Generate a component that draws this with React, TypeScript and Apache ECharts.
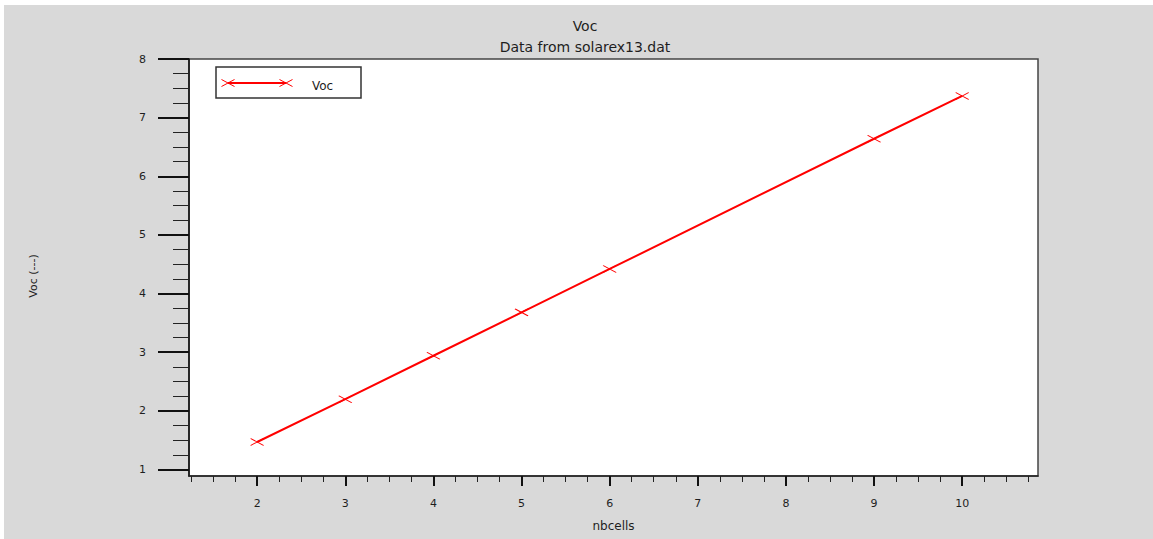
import React, { useEffect, useRef } from "react";
import * as echarts from "echarts";

const xValues = [2, 3, 4, 5, 6, 9, 10];
const vocValues = [1.47, 2.2, 2.94, 3.68, 4.42, 6.64, 7.37];
const xMajorTicks = [2, 3, 4, 5, 6, 7, 8, 9, 10];
const xMinorTicks = [
  1.25, 1.5, 1.75, 2.25, 2.5, 2.75, 3.25, 3.5, 3.75, 4.25, 4.5, 4.75, 5.25, 5.5, 5.75,
  6.25, 6.5, 6.75, 7.25, 7.5, 7.75, 8.25, 8.5, 8.75, 9.25, 9.5, 9.75, 10.25, 10.5, 10.75,
];
const yMajorTicks = [1, 2, 3, 4, 5, 6, 7, 8];
const yMinorTicks = [
  1.25, 1.5, 1.75, 2.25, 2.5, 2.75, 3.25, 3.5, 3.75, 4.25, 4.5, 4.75, 5.25, 5.5, 5.75,
  6.25, 6.5, 6.75, 7.25, 7.5, 7.75,
];
const titleText = "Voc";
const subTitleText = "Data from solarex13.dat";
const xName = "nbcells";
const yName = "Voc (---)";
const legendName = "Voc";

const FONT = "DejaVu Sans";
const RED = "#ff0000";
const TXT = "#1e1e1e";

export default function App() {
  const ref = useRef<HTMLDivElement>(null);
  useEffect(() => {
    if (!ref.current) return;
    const chart = echarts.init(ref.current, null, { renderer: "svg" });
    const xMin = 1.227;
    const xMax = 10.86;
    const yMin = 0.89;
    const yMax = 8;
    const lx1 = 224, lx2 = 282, ly = 78;
    const xMark = (cx: number, cy: number) => [
      { type: "line", shape: { x1: cx - 6.5, y1: cy - 3.5, x2: cx + 6.5, y2: cy + 3.5 }, style: { stroke: RED, lineWidth: 1 } },
      { type: "line", shape: { x1: cx - 6.5, y1: cy + 3.5, x2: cx + 6.5, y2: cy - 3.5 }, style: { stroke: RED, lineWidth: 1 } },
    ];
    chart.setOption({
      animation: false,
      backgroundColor: "#d9d9d9",
      textStyle: { fontFamily: FONT },
      title: [
        { text: titleText, left: 576, top: 9, textAlign: "center", textStyle: { fontFamily: FONT, fontSize: 14, fontWeight: "normal", color: TXT } },
        { text: subTitleText, left: 576, top: 30, textAlign: "center", textStyle: { fontFamily: FONT, fontSize: 14, fontWeight: "normal", color: TXT } },
      ],
      grid: {
        left: 185,
        top: 54,
        width: 849,
        height: 417,
        show: true,
        backgroundColor: "#ffffff",
        borderColor: "#444444",
        borderWidth: 1.5,
      },
      xAxis: [
        {
          type: "value",
          position: "bottom",
          min: xMin,
          max: xMax,
          name: xName,
          nameLocation: "middle",
          nameGap: 44,
          nameTextStyle: { fontFamily: FONT, fontSize: 12, color: TXT },
          axisLine: { show: true, onZero: false, lineStyle: { color: "#222222", width: 1.5 } },
          axisTick: { show: true, customValues: xMajorTicks, length: 10, lineStyle: { color: "#111111", width: 2 } },
          axisLabel: { show: true, customValues: xMajorTicks, margin: 22, fontFamily: FONT, fontSize: 11, color: TXT },
          splitLine: { show: false },
        },
        {
          type: "value",
          position: "bottom",
          min: xMin,
          max: xMax,
          axisLine: { show: false, onZero: false },
          axisTick: { show: true, customValues: xMinorTicks, length: 6, lineStyle: { color: "#222222", width: 1 } },
          axisLabel: { show: false },
          splitLine: { show: false },
        },
      ],
      yAxis: [
        {
          type: "value",
          position: "left",
          min: yMin,
          max: yMax,
          axisLine: { show: true, onZero: false, lineStyle: { color: "#111111", width: 1.5 } },
          axisTick: { show: true, customValues: yMajorTicks, length: 31, lineStyle: { color: "#111111", width: 2 } },
          axisLabel: { show: true, customValues: yMajorTicks, margin: 43, fontFamily: FONT, fontSize: 11, color: TXT },
          splitLine: { show: false },
        },
        {
          type: "value",
          position: "left",
          min: yMin,
          max: yMax,
          axisLine: { show: false, onZero: false },
          axisTick: { show: true, customValues: yMinorTicks, length: 16, lineStyle: { color: "#222222", width: 1 } },
          axisLabel: { show: false },
          splitLine: { show: false },
        },
      ],
      series: [
        {
          name: legendName,
          type: "line",
          xAxisIndex: 0,
          yAxisIndex: 0,
          data: xValues.map((x, i) => [x, vocValues[i]]),
          symbol: "path://M0,0L13,7M0,7L13,0",
          symbolSize: [13, 7],
          showSymbol: true,
          lineStyle: { color: RED, width: 2 },
          itemStyle: { color: "rgba(0,0,0,0)", borderColor: RED, borderWidth: 1 },
        },
      ],
      graphic: [
        {
          type: "text",
          x: 29,
          y: 271,
          rotation: Math.PI / 2,
          style: { text: yName, fontFamily: FONT, fontSize: 11, fill: TXT, align: "center", verticalAlign: "middle" },
        },
        {
          type: "group",
          children: [
            { type: "rect", shape: { x: 212, y: 62, width: 145, height: 31 }, style: { fill: "#ffffff", stroke: "#333333", lineWidth: 1.5 } },
            { type: "line", shape: { x1: lx1, y1: ly, x2: lx2, y2: ly }, style: { stroke: RED, lineWidth: 2 } },
            ...xMark(lx1, ly),
            ...xMark(lx2, ly),
            { type: "text", x: 308, y: 81, style: { text: legendName, fontFamily: FONT, fontSize: 12, fill: TXT, verticalAlign: "middle" } },
          ],
        },
      ],
    });
    return () => chart.dispose();
  }, []);
  return (
    <div style={{ position: "absolute", left: 0, top: 0, width: 1153, height: 539, background: "#ffffff" }}>
      <div ref={ref} style={{ position: "absolute", left: 4, top: 5, width: 1149, height: 534 }} />
    </div>
  );
}
